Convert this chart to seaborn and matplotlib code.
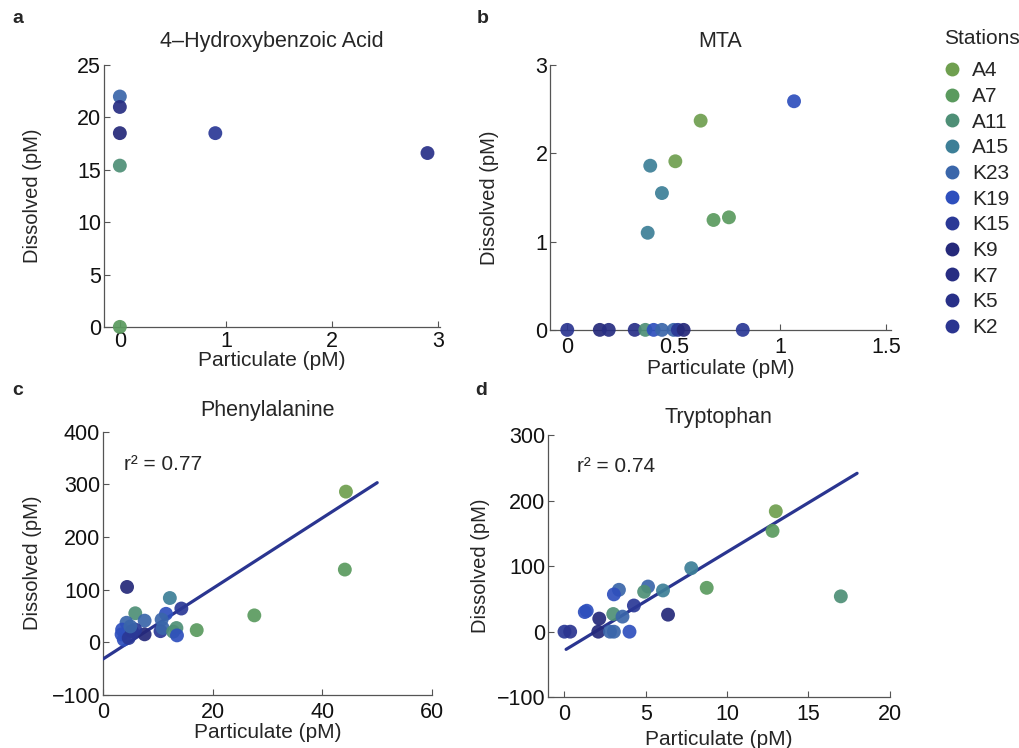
import matplotlib
matplotlib.use("Agg")
import matplotlib.pyplot as plt
from matplotlib.lines import Line2D
import seaborn as sns
import pandas as pd

# ---------------- data ----------------
stations = ["A4", "A7", "A11", "A15", "K23", "K19", "K15", "K9", "K7", "K5", "K2"]
station_colors = ["#6f9f4f", "#5a9a5e", "#4e8f76", "#3d7f97", "#3a66aa", "#2e4fbd",
                  "#2a3896", "#25297a", "#272d82", "#283088", "#2b3590"]

# a: 4-Hydroxybenzoic Acid
a_part = [0, 0, 0, 0, 0, 0.9, 2.9]
a_diss = [22.0, 21.0, 18.5, 15.4, 0.0, 18.5, 16.6]
a_st = ["K23", "K7", "K9", "A11", "A7", "K15", "K5"]

# b: MTA
b_part = [1.066, 0.627, 0.508, 0.39, 0.445, 0.6875, 0.76, 0.378,
          0.0, 0.153, 0.195, 0.317, 0.367, 0.406, 0.445, 0.50, 0.52, 0.547, 0.825]
b_diss = [2.59, 2.37, 1.91, 1.86, 1.55, 1.245, 1.275, 1.10,
          0, 0, 0, 0, 0, 0, 0, 0, 0, 0, 0]
b_st = ["K19", "A4", "A4", "A15", "A15", "A7", "A7", "A15",
        "K2", "K9", "K7", "K5", "A11", "K19", "K23", "K23", "K15", "K9", "K15"]

# c: Phenylalanine
c_part = [44.3, 44.1, 27.6, 17.1, 4.4, 12.2, 14.3, 5.9, 7.6, 11.5, 10.7, 10.5, 10.9,
          13.4, 12.8, 13.5, 7.6, 4.3, 3.5, 3.4, 3.8, 4.7, 5.3, 5.9, 5.0]
c_diss = [286, 138, 51, 23, 105, 84, 64, 55, 41, 54, 43, 21, 27,
          27, 20, 13, 15, 37, 24, 15, 5, 8, 21, 24, 30]
c_st = ["A4", "A7", "A7", "A7", "K9", "A15", "K15", "A11", "K23", "K19", "K23", "K15", "K23",
        "A11", "A11", "K19", "K9", "K23", "K19", "K19", "K19", "K15", "K15", "K15", "K23"]
c_fit_x = [0, 50]
c_fit_y = [-32, 303]
c_r2 = "r\u00b2 = 0.77"

# d: Tryptophan
d_part = [13.0, 12.8, 7.8, 8.75, 17.0, 5.14, 4.9, 6.06, 3.35, 3.04, 1.37, 1.25,
          2.14, 3.0, 3.57, 4.27, 6.37, 0.0, 0.35, 2.08, 2.8, 3.04, 4.0]
d_diss = [184, 154, 97, 67, 54, 69, 61, 63, 64, 57, 32, 30,
          20, 27, 23, 40, 26, 0, 0, 0, 0, 0, 0]
d_st = ["A4", "A7", "A15", "A7", "A11", "K23", "A11", "A15", "K23", "K19", "K19", "K19",
        "K9", "A11", "K23", "K15", "K9", "K15", "K2", "K9", "K23", "K23", "K19"]
d_fit_x = [0.1, 18]
d_fit_y = [-27, 242]
d_r2 = "r\u00b2 = 0.74"

# ---------------- style ----------------
sns.set_style("ticks")
plt.rcParams["font.family"] = ["Liberation Sans", "DejaVu Sans"]
plt.rcParams["axes.edgecolor"] = "#555555"
plt.rcParams["xtick.direction"] = "in"
plt.rcParams["ytick.direction"] = "in"
plt.rcParams["xtick.color"] = "#555555"
plt.rcParams["ytick.color"] = "#555555"
plt.rcParams["xtick.labelcolor"] = "#111111"
plt.rcParams["ytick.labelcolor"] = "#111111"

palette = dict(zip(stations, station_colors))
line_color = "#2a3590"
TICK_FS = 15.5
XLAB_FS = 15
YLAB_FS = 14.5
TITLE_FS = 15.5

fig = plt.figure(figsize=(10.19, 7.48), dpi=100)

axes_pos = {
    "a": [0.102, 0.563, 0.330, 0.350],
    "b": [0.540, 0.559, 0.334, 0.354],
    "c": [0.101, 0.071, 0.323, 0.352],
    "d": [0.538, 0.068, 0.335, 0.350],
}
ylabel_x = {"a": -0.185, "b": -0.15, "c": -0.185, "d": -0.17}
xtick_pad = {"a": 3, "b": 5, "c": 5, "d": 5}
xlabel_pad = {"a": -1.0, "b": 1.2, "c": 0.4, "d": 3.3}
title_pad = {"a": 13, "b": 13, "c": 11, "d": 9}

panels = [
    ("a", a_part, a_diss, a_st, "4\u2013Hydroxybenzoic Acid", (-0.15, 3.02), (0, 25),
     [0, 1, 2, 3], [0, 5, 10, 15, 20, 25], None, None, None),
    ("b", b_part, b_diss, b_st, "MTA", (-0.08, 1.52), (0, 3),
     [0, 0.5, 1, 1.5], [0, 1, 2, 3], None, None, None),
    ("c", c_part, c_diss, c_st, "Phenylalanine", (0, 60), (-100, 400),
     [0, 20, 40, 60], [-100, 0, 100, 200, 300, 400], (c_fit_x, c_fit_y), c_r2, (3.8, 338)),
    ("d", d_part, d_diss, d_st, "Tryptophan", (-1, 20), (-100, 300),
     [0, 5, 10, 15, 20], [-100, 0, 100, 200, 300], (d_fit_x, d_fit_y), d_r2, (0.75, 252)),
]

for key, xs, ys, st, title, xl, yl, xt, yt, fit, r2, r2pos in panels:
    ax = fig.add_axes(axes_pos[key])
    df = pd.DataFrame({"Particulate": xs, "Dissolved": ys, "Station": st})
    if fit is not None:
        fdf = pd.DataFrame({"x": fit[0], "y": fit[1]})
        sns.lineplot(data=fdf, x="x", y="y", ax=ax, color=line_color, linewidth=2.3, zorder=3)
    sns.scatterplot(data=df, x="Particulate", y="Dissolved", hue="Station",
                    hue_order=stations, palette=palette, s=100, edgecolor="none",
                    alpha=0.92, legend=False, ax=ax, clip_on=False, zorder=4)
    ax.set_xlim(*xl)
    ax.set_ylim(*yl)
    ax.set_xticks(xt)
    ax.set_yticks(yt)
    ax.set_xticklabels([("%g" % v).replace("-", "\u2212") for v in xt])
    ax.set_yticklabels([("%g" % v).replace("-", "\u2212") for v in yt])
    ax.tick_params(labelsize=TICK_FS, length=4, width=0.8)
    ax.tick_params(axis="x", pad=xtick_pad[key])
    ax.tick_params(axis="y", pad=2)
    sns.despine(ax=ax)
    ax.spines["left"].set_linewidth(0.9)
    ax.spines["bottom"].set_linewidth(0.9)
    ax.set_xlabel("Particulate (pM)", fontsize=XLAB_FS, labelpad=xlabel_pad[key])
    ax.set_ylabel("Dissolved (pM)", fontsize=YLAB_FS)
    ax.yaxis.set_label_coords(ylabel_x[key], 0.5)
    ax.set_title(title, fontsize=TITLE_FS, pad=title_pad[key])
    if r2 is not None:
        ax.text(r2pos[0], r2pos[1], r2, fontsize=15, va="center", ha="left")

# panel letters
for letter, (x, y) in {"a": (0.012, 0.975), "b": (0.468, 0.975),
                       "c": (0.012, 0.478), "d": (0.466, 0.478)}.items():
    fig.text(x, y, letter, fontsize=14, fontweight="bold", va="center", ha="left")

# legend
handles = [Line2D([0], [0], marker="o", linestyle="none", markersize=10,
                  markerfacecolor=c, markeredgecolor="none") for c in station_colors]
leg = fig.legend(handles, stations, title="Stations", loc="upper left",
                 bbox_to_anchor=(0.918, 0.973), frameon=False, fontsize=15,
                 title_fontsize=15, handletextpad=0.55, labelspacing=0.32,
                 borderaxespad=0, handlelength=0.8)
leg._legend_box.align = "left"
leg._legend_box.sep = 10

fig.savefig("out.png", dpi=100)
